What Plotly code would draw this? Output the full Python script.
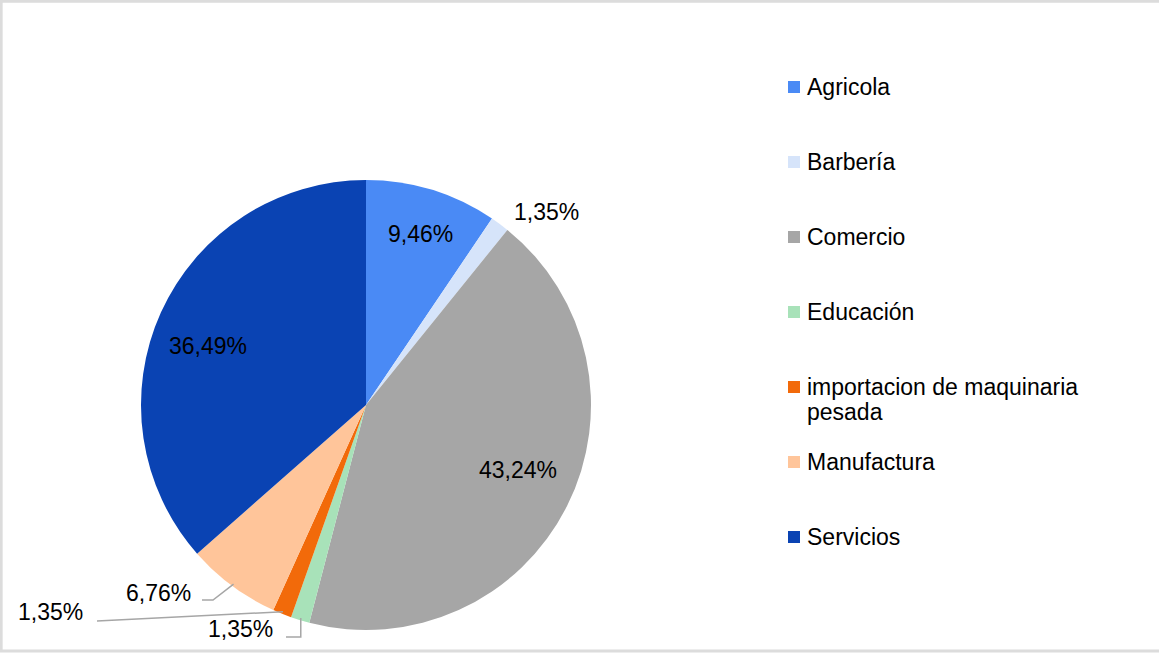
import math
import plotly.graph_objects as go

# ---------------- data ----------------
categories = ["Agricola", "Barbería", "Comercio", "Educación",
              "importacion de maquinaria<br>pesada", "Manufactura", "Servicios"]
counts = [7, 1, 32, 1, 1, 5, 27]          # companies per sector (total 74)
colors = ["#4A8AF5", "#D6E4FA", "#A6A6A6", "#A8E2B9",
          "#F26A0A", "#FFC59A", "#0A43B3"]

# ---------------- layout constants (pixels) ----------------
W, H = 1159, 653
cx, cy, r = 366, 405, 225
FONT = "Liberation Sans, Arial, Helvetica, sans-serif"
FS = 23

def px(x):
    return x / W

def py(y):
    return 1 - y / H

total = sum(counts)
pct_text = [f"{c / total * 100:.2f}".replace(".", ",") + "%" for c in counts]

# mid angles (clockwise from 12 o'clock) of each slice
mid_angles = []
cum = 0
for c in counts:
    a0 = cum / total * 360
    cum += c
    a1 = cum / total * 360
    mid_angles.append((a0 + a1) / 2)

def polar(theta_deg, d):
    t = math.radians(theta_deg)
    return cx + d * math.sin(t), cy - d * math.cos(t)

fig = go.Figure(go.Pie(
    labels=categories,
    values=counts,
    textinfo="none",
    sort=False,
    direction="clockwise",
    rotation=0,
    marker=dict(colors=colors, line=dict(width=0)),
    domain=dict(x=[px(cx - r), px(cx + r)], y=[py(cy + r), py(cy - r)]),
    showlegend=False,
    hoverinfo="label+percent",
))

annotations = []
shapes = []

# label placement (pixel centres of each percentage label, Excel-like layout)
label_pos = {0: (420, 234), 1: (546, 212), 2: (518, 470), 3: (240, 629),
             4: (50, 612), 5: (158, 593), 6: (208, 346)}
# leader lines for the three small bottom slices (start on the slice edge)
callout_path = {3: [(None, 637), (286, 637)],
                4: [(97, 621)],
                5: [(213, 600), (202, 600)]}

for i in range(len(counts)):
    lx, ly = label_pos[i]
    if i in callout_path:
        sx, sy = polar(mid_angles[i], r * 0.99)
        pts = [(sx, sy)]
        for (qx, qy) in callout_path[i]:
            pts.append((sx if qx is None else qx, qy))
        path = "M " + " L ".join(f"{px(a):.5f},{py(b):.5f}" for a, b in pts)
        shapes.append(dict(type="path", xref="paper", yref="paper", path=path,
                           line=dict(color="#A6A6A6", width=1.5)))
    annotations.append(dict(x=px(lx), y=py(ly), xref="paper", yref="paper",
                            text=pct_text[i], showarrow=False,
                            xanchor="center", yanchor="middle",
                            font=dict(family=FONT, size=FS, color="#000000")))

# legend (squares + text, one entry per category)
leg_sq_x = 794
leg_text_x = 805
leg_first_y = 87
leg_step = 75
line_gap = 25
for i, lab in enumerate(categories):
    yc = leg_first_y + i * leg_step
    shapes.append(dict(type="rect", xref="paper", yref="paper",
                       x0=px(leg_sq_x - 6), x1=px(leg_sq_x + 6),
                       y0=py(yc + 6), y1=py(yc - 6),
                       fillcolor=colors[i], line=dict(width=0)))
    for k, part in enumerate(lab.split("<br>")):
        annotations.append(dict(x=px(leg_text_x), y=py(yc + k * line_gap),
                                xref="paper", yref="paper", text=part, showarrow=False,
                                xanchor="left", yanchor="middle", align="left",
                                font=dict(family=FONT, size=FS, color="#000000")))

# outer chart border
shapes.append(dict(type="rect", xref="paper", yref="paper", x0=0.001, x1=1.01, y0=0.003, y1=0.998,
                   line=dict(color="#DCDCDC", width=3), fillcolor="rgba(0,0,0,0)"))

fig.update_layout(
    width=W, height=H,
    margin=dict(l=0, r=0, t=0, b=0),
    paper_bgcolor="white",
    font=dict(family=FONT, size=FS, color="#000000"),
    annotations=annotations,
    shapes=shapes,
    showlegend=False,
)

fig.write_html("out.html",
               config={"displayModeBar": False},
               post_script="document.body.style.margin='0';document.body.style.padding='0';"
                           "document.body.style.overflow='hidden';")
